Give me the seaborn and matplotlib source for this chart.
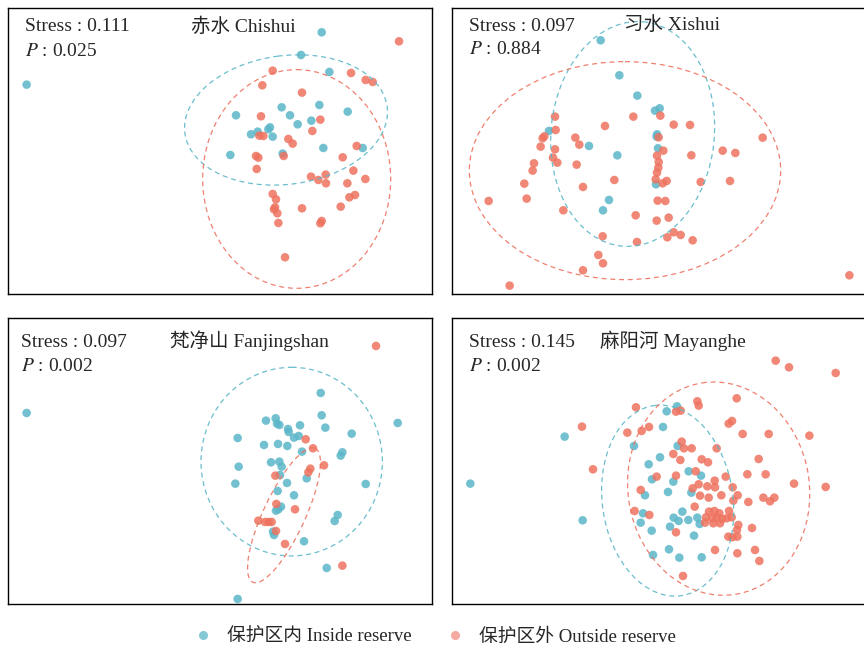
import pandas as pd
import seaborn as sns
from matplotlib import pyplot as plt
from matplotlib.patches import Ellipse
from matplotlib.lines import Line2D

sns.set_style("white")
plt.rcParams["font.family"] = ["Liberation Serif", "Noto Sans CJK SC"]
plt.rcParams["mathtext.fontset"] = "stix"

sites = ["赤水 Chishui", "习水 Xishui", "梵净山 Fanjingshan", "麻阳河 Mayanghe"]
stress = ["0.111", "0.097", "0.097", "0.145"]
p_values = ["0.025", "0.884", "0.002", "0.002"]
groups = ["保护区内 Inside reserve", "保护区外 Outside reserve"]

# NMDS scores (pixel scale, NMDS2 pointing down)
chishui_in = [(965, 97), (80, 254), (903, 165), (988, 216), (958, 315), (845, 322),
              (1043, 335), (708, 346), (870, 346), (934, 362), (893, 373), (810, 382),
              (805, 388), (773, 395), (753, 403), (818, 410), (970, 444), (1088, 444),
              (691, 465), (848, 461)]
chishui_out = [(1197, 124), (818, 212), (1053, 219), (1097, 240), (1118, 246), (787, 256),
               (906, 278), (783, 349), (961, 359), (937, 393), (790, 408), (778, 407),
               (865, 417), (878, 431), (1070, 438), (768, 468), (775, 473), (851, 468),
               (1028, 472), (770, 507), (1060, 512), (933, 530), (977, 524), (955, 540),
               (978, 550), (1096, 537), (1042, 550), (818, 582), (828, 598), (1065, 585),
               (1048, 592), (1022, 620), (825, 622), (822, 628), (906, 625), (832, 640),
               (965, 663), (961, 670), (835, 669), (855, 772)]

xishui_in = [(482, 121), (538, 226), (592, 287), (645, 332), (659, 325), (327, 393),
             (651, 403), (650, 410), (447, 438), (654, 445), (532, 466), (648, 553),
             (507, 600), (489, 631)]
xishui_out = [(345, 350), (580, 350), (661, 347), (495, 378), (701, 374), (750, 375),
              (347, 390), (968, 413), (313, 409), (308, 415), (406, 413), (656, 412),
              (418, 434), (302, 440), (345, 448), (670, 452), (848, 452), (886, 459),
              (754, 466), (651, 467), (339, 473), (352, 488), (282, 490), (410, 494),
              (656, 486), (655, 503), (278, 512), (651, 518), (523, 540), (647, 538),
              (668, 550), (680, 543), (782, 546), (870, 543), (253, 551), (429, 561),
              (146, 603), (260, 596), (653, 602), (676, 603), (370, 631), (587, 646),
              (686, 653), (650, 662), (701, 697), (722, 705), (682, 712), (758, 721),
              (488, 709), (591, 726), (475, 765), (489, 790), (429, 811), (209, 857),
              (1228, 826)]

fanjing_in = [(80, 309), (962, 249), (965, 316), (1193, 339), (798, 332), (827, 325),
              (831, 341), (838, 345), (864, 357), (866, 366), (900, 346), (976, 353),
              (1055, 371), (713, 384), (882, 383), (896, 378), (792, 405), (834, 402),
              (862, 408), (906, 425), (1027, 427), (1022, 437), (813, 457), (838, 455),
              (845, 470), (840, 495), (716, 470), (706, 521), (920, 505), (861, 519),
              (1097, 522), (833, 543), (882, 556), (843, 590), (828, 602), (835, 598),
              (1013, 615), (1004, 633), (819, 665), (822, 675), (912, 694), (980, 774),
              (713, 867)]
fanjing_out = [(1128, 108), (917, 388), (939, 415), (972, 466), (931, 476), (925, 487),
               (826, 497), (829, 582), (885, 598), (775, 632), (795, 636), (806, 636),
               (815, 636), (828, 663), (855, 702), (1027, 767)]

mayang_in = [(91, 521), (374, 380), (428, 631), (582, 408), (680, 304), (711, 289),
             (669, 351), (713, 408), (660, 442), (626, 463), (636, 508), (746, 484),
             (783, 497), (700, 515), (684, 546), (754, 548), (615, 556), (609, 610),
             (602, 638), (727, 605), (701, 623), (716, 633), (745, 630), (772, 623),
             (779, 642), (690, 650), (635, 662), (762, 677), (687, 718), (718, 743),
             (785, 742), (639, 735)]
mayang_out = [(1007, 152), (1047, 172), (1187, 189), (772, 274), (776, 287), (890, 265),
              (588, 292), (708, 305), (722, 302), (426, 350), (627, 351), (866, 341),
              (876, 333), (1108, 377), (459, 478), (1062, 521), (1157, 531), (729, 798),
              (562, 368), (605, 363), (725, 395), (732, 415), (755, 415), (700, 432),
              (721, 450), (830, 415), (785, 448), (804, 457), (908, 372), (986, 372),
              (956, 447), (650, 500), (708, 497), (767, 484), (824, 512), (857, 500),
              (922, 493), (977, 493), (602, 540), (758, 535), (776, 523), (802, 529),
              (825, 532), (878, 532), (780, 557), (806, 563), (844, 556), (893, 556),
              (880, 572), (925, 576), (970, 563), (990, 574), (1003, 563), (764, 590),
              (584, 603), (628, 615), (807, 605), (823, 603), (838, 610), (867, 603),
              (798, 622), (817, 625), (830, 622), (846, 627), (875, 622), (795, 638),
              (820, 640), (840, 640), (860, 625), (895, 645), (891, 660), (936, 654),
              (708, 667), (865, 680), (877, 682), (892, 680), (825, 720), (892, 730),
              (945, 720), (958, 753)]

# 95% ellipses: centre x, centre y, width, height, angle
ellipse_in = [(858, 360, 612, 386, -7.5), (578, 402, 490, 676, 5.5),
              (875, 455, 544, 566, 0), (683, 572, 392, 576, -8)]
ellipse_out = [(890, 537, 564, 656, 0), (555, 512, 934, 654, 0),
               (852, 616, 125, 443, 25), (836, 536, 544, 642, -9)]

points_in = [chishui_in, xishui_in, fanjing_in, mayang_in]
points_out = [chishui_out, xishui_out, fanjing_out, mayang_out]

blue = "#5BB7C8"
red = "#EE725F"

# panel boxes in figure pixels: left, top
boxes = [(8.3, 8.3), (452.3, 8.3), (8.3, 318.3), (452.3, 318.3)]
xlims = [(25, 1295), (37, 1307), (25, 1295), (37, 1307)]
title_x = [0.554, 0.518, 0.570, 0.522]
title_y = [0.936, 0.940, 0.922, 0.922]
label_x = [0.039, 0.040, 0.029, 0.040]
label_y = [(0.936, 0.848), (0.936, 0.857), (0.916, 0.833), (0.916, 0.833)]

fig = plt.figure(figsize=(8.64, 6.48), dpi=100)

for i in range(4):
    left, top = boxes[i]
    ax = fig.add_axes([left / 864, 1 - (top + 286) / 648, 423.4 / 864, 286 / 648])
    df = pd.DataFrame(
        [(x, y, groups[0]) for x, y in points_in[i]]
        + [(x, y, groups[1]) for x, y in points_out[i]],
        columns=["NMDS1", "NMDS2", "group"],
    )
    sns.scatterplot(
        data=df, x="NMDS1", y="NMDS2", hue="group", palette=[blue, red],
        s=38, alpha=0.85, linewidth=0, legend=False, ax=ax,
    )
    for params, col in ((ellipse_in[i], blue), (ellipse_out[i], red)):
        cx, cy, w, h, ang = params
        ax.add_patch(Ellipse((cx, cy), w, h, angle=ang, fill=False,
                             edgecolor=col, lw=0.9, ls=(0, (4, 3)), alpha=0.9))
    ax.set_xlim(*xlims[i])
    ax.set_ylim(883, 25)
    ax.set_xticks([])
    ax.set_yticks([])
    ax.set_xlabel("")
    ax.set_ylabel("")
    for sp in ax.spines.values():
        sp.set_color("black")
        sp.set_linewidth(1.0)
    ax.text(label_x[i], label_y[i][0], "Stress : " + stress[i], transform=ax.transAxes,
            fontsize=14, va="center", ha="left")
    ax.text(label_x[i], label_y[i][1], "$\\mathit{P}$ : " + p_values[i], transform=ax.transAxes,
            fontsize=14, va="center", ha="left")
    ax.text(title_x[i], title_y[i], sites[i], transform=ax.transAxes,
            fontsize=14, va="center", ha="center")

handles = [
    Line2D([], [], marker="o", ls="", color=blue, alpha=0.75, markersize=6.5, mec="none"),
    Line2D([], [], marker="o", ls="", color=red, alpha=0.6, markersize=6.5, mec="none"),
]
fig.legend(handles, groups, loc="center", bbox_to_anchor=(0.503, 0.017), ncol=2,
           frameon=False, fontsize=13.5, handlelength=1.0, handletextpad=0.8,
           columnspacing=1.8, borderaxespad=0)

fig.savefig("out.png", dpi=100)
